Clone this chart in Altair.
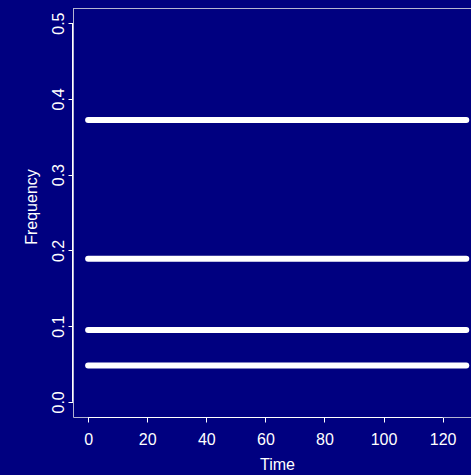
import altair as alt
import pandas as pd

# Frequencies of the constant components over time
freqs = [0.372, 0.189, 0.095, 0.048]
t_start = [0, 0, 0, 0]
t_end = [128, 128, 128, 128]

x_ticks = [0, 20, 40, 60, 80, 100, 120]
y_ticks = [0.0, 0.1, 0.2, 0.3, 0.4, 0.5]

df = pd.DataFrame({"freq": freqs, "t0": t_start, "t1": t_end})

W, H = 398, 409
BG = "#000080"
BOX = "#b4b4d2"
FONT = "Liberation Sans"

xscale = alt.Scale(domain=[-5.12, 129.6], nice=False, zero=False)
yscale = alt.Scale(domain=[-0.02, 0.52], nice=False, zero=False)

x_axis = alt.Axis(
    values=x_ticks, title="Time", grid=False,
    domainColor=BOX, domainWidth=1, tickColor="white", tickSize=5,
    labelColor="white", labelFont=FONT, labelFontSize=16,
    labelBaseline="alphabetic", labelPadding=22.6, labelFlush=False,
    titleColor="white", titleFont=FONT, titleFontSize=16, titleFontWeight="normal",
    titleBaseline="alphabetic", titleX=204, titleY=52.6, titleAlign="center",
)
y_axis = alt.Axis(
    values=y_ticks, format=".1f", title="Frequency", grid=False,
    domainColor=BOX, domainWidth=1, tickColor="white", tickSize=5,
    labelColor="white", labelFont=FONT, labelFontSize=16,
    labelAngle=270, labelAlign="center", labelBaseline="alphabetic",
    labelPadding=4.7, labelFlush=False,
    titleColor="white", titleFont=FONT, titleFontSize=16, titleFontWeight="normal",
    titleAngle=270, titleAlign="center", titleBaseline="alphabetic",
    titleX=-37, titleY=198.5,
)

base = alt.Chart(df)

lines = base.mark_rule(color="white", strokeWidth=6, strokeCap="round").encode(
    x=alt.X("t0:Q", scale=xscale, axis=x_axis),
    x2="t1:Q",
    y=alt.Y("freq:Q", scale=yscale, axis=y_axis),
)

# top edge of the box
top_edge = base.mark_rule(color=BOX, strokeWidth=1).encode(
    x=alt.value(0), x2=alt.value(W), y=alt.value(0.5)
)

# white axis segments spanning the tick range
axis_df = pd.DataFrame({"a0": [x_ticks[0]], "a1": [x_ticks[-1]],
                        "b0": [y_ticks[0]], "b1": [y_ticks[-1]]})
x_seg = alt.Chart(axis_df).mark_rule(color="white", strokeWidth=1).encode(
    x=alt.X("a0:Q", scale=xscale), x2="a1:Q", y=alt.value(H + 0.5)
)
y_seg = alt.Chart(axis_df).mark_rule(color="white", strokeWidth=1).encode(
    y=alt.Y("b0:Q", scale=yscale), y2="b1:Q", x=alt.value(-0.5)
)

chart = (
    alt.layer(lines, top_edge, x_seg, y_seg)
    .properties(
        width=W, height=H, background=BG,
        autosize=alt.AutoSizeParams(type="none"),
        padding={"left": 73, "top": 8, "right": 0, "bottom": 58},
    )
    .configure_view(stroke=None, fill=BG)
)

chart.save("out.html", embed_options={"renderer": "svg", "actions": False})
